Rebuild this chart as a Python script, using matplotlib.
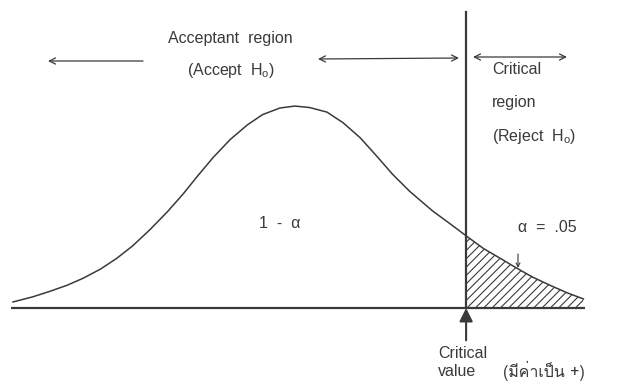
import matplotlib.pyplot as plt
import numpy as np
from matplotlib import font_manager
from matplotlib.ft2font import FT2Font

# bell curve (z units, density)
z = [-2.47, -2.30, -2.15, -2.00, -1.86, -1.71, -1.57, -1.43, -1.28, -1.13, -0.99,
     -0.87, -0.73, -0.58, -0.43, -0.30, -0.15, -0.02, 0.11, 0.26, 0.40, 0.55,
     0.70, 0.83, 0.98, 1.18, 1.33, 1.47, 1.62, 1.77, 1.91, 2.05, 2.20, 2.35, 2.49]
density = [0.012, 0.022, 0.033, 0.045, 0.059, 0.077, 0.098, 0.123, 0.155, 0.190, 0.226,
           0.260, 0.298, 0.334, 0.363, 0.383, 0.396, 0.400, 0.397, 0.388, 0.367, 0.337,
           0.299, 0.265, 0.231, 0.192, 0.167, 0.143, 0.118, 0.098, 0.079, 0.061, 0.045,
           0.030, 0.018]
crit_value = 1.47
alpha_label = "α  =  .05"
body_label = "1  -  α"

ink = '#3a3a3a'
plt.rcParams['font.family'] = ['Liberation Sans', 'DejaVu Sans']
plt.rcParams['mathtext.fontset'] = 'custom'
plt.rcParams['mathtext.rm'] = 'Liberation Sans'
plt.rcParams['hatch.color'] = ink
plt.rcParams['hatch.linewidth'] = 0.8


def thai_font():
    # look for any installed font that has Thai glyphs
    for f in font_manager.fontManager.ttflist:
        try:
            cmap = FT2Font(f.fname).get_charmap()
        except Exception:
            continue
        if 0x0E21 in cmap and 0x0E48 in cmap:
            return f.name
    return None


th = thai_font()
thai_family = [th, 'Liberation Sans', 'DejaVu Sans'] if th else ['Liberation Sans', 'DejaVu Sans']

fig = plt.figure(figsize=(6.21, 3.83), dpi=100)
ax = fig.add_axes([0, 0, 1, 1])
ax.set_xlim(-2.583, 2.817)
ax.set_ylim(-0.1485, 0.610)
ax.axis('off')

zs = np.array(z)
ds = np.array(density)

# curve, baseline, critical line
ax.plot(zs, ds, color=ink, lw=1.1, solid_joinstyle='round')
ax.plot([zs[0] - 0.02, zs[-1] + 0.01], [0, 0], color=ink, lw=1.6, solid_capstyle='butt')
ax.plot([crit_value, crit_value], [0, 0.586], color=ink, lw=1.6)

# critical region hatch
m = zs >= crit_value
ax.fill_between(zs[m], 0, ds[m], facecolor='none', edgecolor=ink, hatch='////', lw=0)

# arrow pointing at the critical value
ax.annotate('', xy=(crit_value, 0), xytext=(crit_value, -0.064),
            arrowprops=dict(arrowstyle='-|>', color=ink, lw=1.5, mutation_scale=20,
                            shrinkA=0, shrinkB=0))


def px(x, y):
    return (x / 621, 1 - y / 383)


arrow = dict(color=ink, lw=0.9, mutation_scale=11, shrinkA=0, shrinkB=0)
ax.annotate('', xy=px(48, 61), xytext=px(143, 61), xycoords='axes fraction',
            arrowprops=dict(arrowstyle='->', **arrow))
ax.annotate('', xy=px(318, 59), xytext=px(459, 58), xycoords='axes fraction',
            arrowprops=dict(arrowstyle='<->', **arrow))
ax.annotate('', xy=px(473, 57), xytext=px(567, 57), xycoords='axes fraction',
            arrowprops=dict(arrowstyle='<->', **arrow))
ax.annotate('', xy=px(518, 268), xytext=px(518, 254), xycoords='axes fraction',
            arrowprops=dict(arrowstyle='->', color=ink, lw=0.8, mutation_scale=7,
                            shrinkA=0, shrinkB=0))

fs = 11.5
kw = dict(transform=ax.transAxes, fontsize=fs, color=ink, va='center')
ax.text(*px(230, 38), "Acceptant  region", ha='center', **kw)
ax.text(*px(231, 70), "(Accept  H$_\\mathrm{o}$)", ha='center', **kw)
ax.text(*px(492, 70), "Critical", ha='left', **kw)
ax.text(*px(492, 103), "region", ha='left', **kw)
ax.text(*px(492, 137), "(Reject  H$_\\mathrm{o}$)", ha='left', **kw)
ax.text(*px(280, 224), body_label, ha='center', **kw)
ax.text(*px(547, 228), alpha_label, ha='center', **kw)
ax.text(*px(438, 354), "Critical", ha='left', **kw)
ax.text(*px(438, 372), "value", ha='left', **kw)
ax.text(*px(503, 371), "(มีค่าเป็น +)", ha='left', family=thai_family, **kw)

fig.savefig('out.png', dpi=100)
